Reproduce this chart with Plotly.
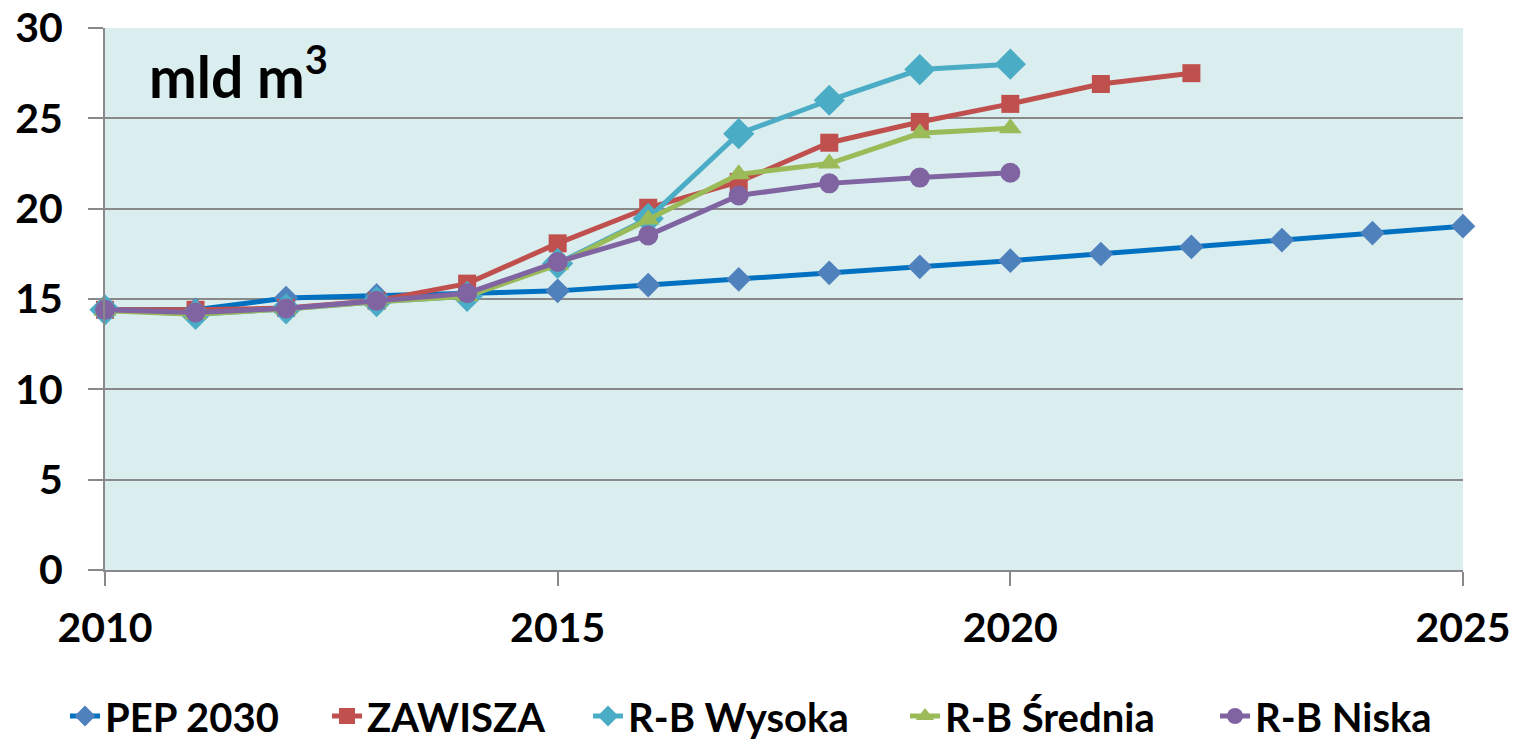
import plotly.graph_objects as go

years = list(range(2010, 2026))
pep2030 = [14.4, 14.4, 15.05, 15.2, 15.3, 15.45, 15.77, 16.09, 16.45, 16.78, 17.12, 17.49, 17.88, 18.26, 18.65, 19.03]
zaw_years = list(range(2010, 2023))
zawisza = [14.4, 14.4, 14.5, 14.9, 15.85, 18.08, 20.05, 21.48, 23.65, 24.8, 25.8, 26.9, 27.5]
rb_years = list(range(2010, 2021))
rb_wysoka = [14.4, 14.15, 14.45, 14.85, 15.15, 16.97, 19.46, 24.15, 26.0, 27.7, 28.0]
rb_srednia = [14.35, 14.15, 14.45, 14.85, 15.15, 16.9, 19.4, 21.9, 22.5, 24.17, 24.45]
rb_niska = [14.4, 14.25, 14.48, 14.9, 15.32, 17.05, 18.52, 20.73, 21.4, 21.72, 21.99]

x_ticks = [2010, 2015, 2020, 2025]
y_ticks = [0, 5, 10, 15, 20, 25, 30]

FONT = "Lato"
GRAY = "#898989"
W, H = 1519, 733  # page body has an 8px margin

# legend text start positions (page px)
legend_text_x = [107, 369, 630, 947, 1257]

fig = go.Figure()
series = [
    ("PEP 2030", years, pep2030, "#0070C0", "#4F81BD", "diamond", 19),
    ("ZAWISZA", zaw_years, zawisza, "#C0504D", "#C0504D", "square", 18),
    ("R-B Wysoka", rb_years, rb_wysoka, "#4BACC6", "#4BACC6", "diamond", 24),
    ("R-B Średnia", rb_years, rb_srednia, "#9BBB59", "#9BBB59", "triangle-up", 20),
    ("R-B Niska", rb_years, rb_niska, "#8064A2", "#8064A2", "circle", 20),
]
legend_layouts = {}
for i, (name, xs, ys, lc, mc, sym, ms) in enumerate(series):
    lname = "legend" if i == 0 else f"legend{i + 1}"
    fig.add_trace(go.Scatter(
        x=xs, y=ys, name=name, mode="lines+markers", legend=lname, cliponaxis=False,
        line=dict(color=lc, width=5),
        marker=dict(symbol=sym, size=ms, color=mc, line=dict(width=0)),
    ))
    left = legend_text_x[i] - 8 - 42
    legend_layouts[lname] = dict(
        orientation="h", x=left / W, xref="container", xanchor="left",
        y=(H - (716 - 8)) / H, yref="container", yanchor="middle",
        font=dict(size=40, family=FONT, color="black", weight="bold"),
        itemwidth=30, bgcolor="rgba(0,0,0,0)",
    )

fig.update_layout(
    width=W, height=H,
    margin=dict(l=97, r=64, t=20, b=171, autoexpand=False),
    paper_bgcolor="white", plot_bgcolor="#DAEDEF",
    font=dict(family=FONT, color="black"),
    showlegend=True,
    **legend_layouts,
)
fig.add_annotation(text="<b>mld m<sup>3</sup></b>", xref="paper", yref="paper",
                   x=(147 - 105) / 1358, y=1 - (72 - 28) / 542, xanchor="left", yanchor="middle",
                   showarrow=False, font=dict(size=57, family=FONT, color="black"))

fig.update_xaxes(
    range=[2010, 2025], tickvals=x_ticks, ticktext=[str(v) for v in x_ticks],
    showgrid=False, zeroline=False, showline=True, linecolor=GRAY, linewidth=2,
    ticks="outside", ticklen=14, tickcolor=GRAY, tickwidth=2,
    tickfont=dict(size=41, family=FONT, color="black", weight="bold"),
    ticklabelstandoff=7, automargin=False, ticklabeloverflow="allow",
)
fig.update_yaxes(
    range=[0, 30], tickvals=y_ticks, showgrid=True, gridcolor=GRAY, gridwidth=2,
    zeroline=False, showline=True, linecolor=GRAY, linewidth=2,
    ticks="outside", ticklen=15, tickcolor=GRAY, tickwidth=2,
    tickfont=dict(size=41, family=FONT, color="black", weight="bold"),
    ticklabelstandoff=17, automargin=False, ticklabeloverflow="allow",
)

fig.write_html("out.html")
